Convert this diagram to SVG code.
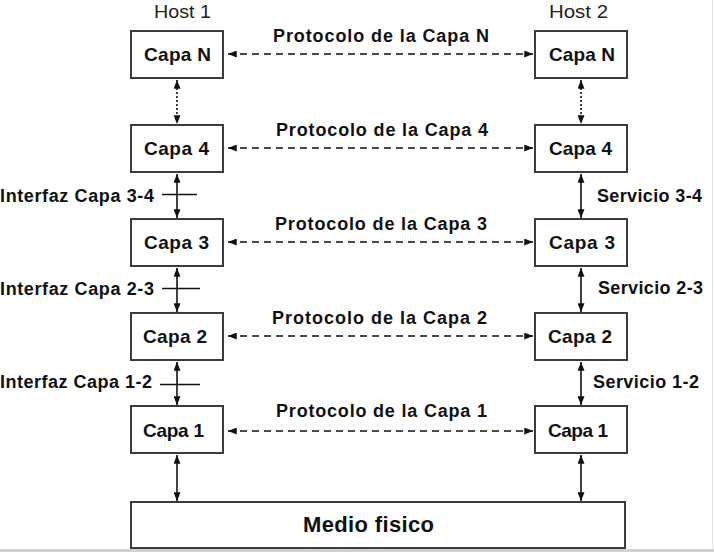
<svg xmlns="http://www.w3.org/2000/svg" width="714" height="552" viewBox="0 0 714 552">
<style>
.box{fill:#fff;stroke:#3c3c3c;stroke-width:2}
.t{font-family:"Liberation Sans",Arial,sans-serif;font-weight:bold;fill:#111}
.cap{font-size:19px}
.pl{font-size:18px}
.side{font-size:18px}
.host{font-family:"Liberation Sans",Arial,sans-serif;font-size:19px;fill:#222}
.c{stroke:#111;stroke-width:1.6;fill:none}
.dash{stroke-dasharray:7 5;stroke-width:1.5}
.dot{stroke-dasharray:2 2;stroke-width:1.6}
</style>
<defs>
<marker id="ah" viewBox="0 0 10 8" refX="10" refY="4" markerWidth="9" markerHeight="7" markerUnits="userSpaceOnUse" orient="auto-start-reverse">
<path d="M0,0 L10,4 L0,8 z" fill="#111"/>
</marker>
<marker id="av" viewBox="0 0 10 8" refX="10" refY="4" markerWidth="10" markerHeight="7" markerUnits="userSpaceOnUse" orient="auto-start-reverse">
<path d="M0,0 L10,4 L0,8 z" fill="#111"/>
</marker>
</defs>
<rect x="0" y="0" width="714" height="552" fill="#fff"/>
<rect x="0" y="549" width="714" height="3" fill="#d2d2d2"/>
<line x1="712.5" y1="0" x2="712.5" y2="549" stroke="#e2e2e2" stroke-width="1"/>

<text class="host" x="154" y="18" textLength="57" lengthAdjust="spacingAndGlyphs">Host 1</text>
<text class="host" x="549" y="18" textLength="59" lengthAdjust="spacingAndGlyphs">Host 2</text>

<g id="connectors">
<line class="c dash" x1="228" y1="54" x2="533" y2="54" marker-start="url(#ah)" marker-end="url(#ah)"/>
<line class="c dash" x1="228" y1="148" x2="533" y2="148" marker-start="url(#ah)" marker-end="url(#ah)"/>
<line class="c dash" x1="228" y1="242" x2="533" y2="242" marker-start="url(#ah)" marker-end="url(#ah)"/>
<line class="c dash" x1="228" y1="336" x2="533" y2="336" marker-start="url(#ah)" marker-end="url(#ah)"/>
<line class="c dash" x1="228" y1="431" x2="533" y2="431" marker-start="url(#ah)" marker-end="url(#ah)"/>

<line class="c dot" x1="177" y1="80" x2="177" y2="124" marker-start="url(#av)" marker-end="url(#av)"/>
<line class="c dot" x1="581" y1="80" x2="581" y2="124" marker-start="url(#av)" marker-end="url(#av)"/>

<line class="c" x1="177" y1="174" x2="177" y2="218" marker-start="url(#av)" marker-end="url(#av)"/>
<line class="c" x1="177" y1="268" x2="177" y2="312" marker-start="url(#av)" marker-end="url(#av)"/>
<line class="c" x1="177" y1="362" x2="177" y2="405" marker-start="url(#av)" marker-end="url(#av)"/>
<line class="c" x1="177" y1="455" x2="177" y2="501" marker-start="url(#av)" marker-end="url(#av)"/>

<line class="c" x1="581" y1="174" x2="581" y2="218" marker-start="url(#av)" marker-end="url(#av)"/>
<line class="c" x1="581" y1="268" x2="581" y2="312" marker-start="url(#av)" marker-end="url(#av)"/>
<line class="c" x1="581" y1="362" x2="581" y2="405" marker-start="url(#av)" marker-end="url(#av)"/>
<line class="c" x1="581" y1="455" x2="581" y2="501" marker-start="url(#av)" marker-end="url(#av)"/>

<line class="c" x1="162" y1="194.5" x2="197" y2="194.5" stroke-width="1.2"/>
<line class="c" x1="162" y1="288.5" x2="200" y2="288.5" stroke-width="1.2"/>
<line class="c" x1="160" y1="384.5" x2="200" y2="384.5" stroke-width="1.2"/>
</g>

<g id="labels">
<text class="t pl" x="273" y="42" textLength="216" lengthAdjust="spacing">Protocolo de la Capa  N</text>
<text class="t pl" x="276" y="136" textLength="212" lengthAdjust="spacing">Protocolo de la Capa 4</text>
<text class="t pl" x="275" y="230" textLength="212" lengthAdjust="spacing">Protocolo de la Capa 3</text>
<text class="t pl" x="272" y="324" textLength="215" lengthAdjust="spacing">Protocolo de la Capa 2</text>
<text class="t pl" x="276" y="417" textLength="211" lengthAdjust="spacing">Protocolo de la Capa 1</text>

<text class="t side" x="0" y="202" textLength="154" lengthAdjust="spacing">Interfaz Capa 3-4</text>
<text class="t side" x="0" y="295" textLength="154" lengthAdjust="spacing">Interfaz Capa 2-3</text>
<text class="t side" x="0" y="388" textLength="152" lengthAdjust="spacing">Interfaz Capa 1-2</text>

<text class="t side" x="597" y="202" textLength="105" lengthAdjust="spacing">Servicio 3-4</text>
<text class="t side" x="598" y="294" textLength="105" lengthAdjust="spacing">Servicio 2-3</text>
<text class="t side" x="593" y="388" textLength="106" lengthAdjust="spacing">Servicio 1-2</text>
</g>

<g id="h1-capaN"><rect class="box" x="131" y="31" width="92" height="47"/><text class="t cap" x="144" y="61" textLength="67" lengthAdjust="spacing">Capa N</text></g>
<g id="h1-capa4"><rect class="box" x="131" y="125" width="92" height="47"/><text class="t cap" x="144" y="155" textLength="65" lengthAdjust="spacing">Capa 4</text></g>
<g id="h1-capa3"><rect class="box" x="131" y="219" width="92" height="47"/><text class="t cap" x="144" y="249" textLength="65" lengthAdjust="spacing">Capa 3</text></g>
<g id="h1-capa2"><rect class="box" x="131" y="313" width="92" height="47"/><text class="t cap" x="143" y="343" textLength="64" lengthAdjust="spacing">Capa 2</text></g>
<g id="h1-capa1"><rect class="box" x="131" y="406" width="92" height="47"/><text class="t cap" x="143" y="437" textLength="61" lengthAdjust="spacing">Capa 1</text></g>

<g id="h2-capaN"><rect class="box" x="535" y="31" width="92" height="47"/><text class="t cap" x="549" y="61" textLength="66" lengthAdjust="spacing">Capa N</text></g>
<g id="h2-capa4"><rect class="box" x="535" y="125" width="92" height="47"/><text class="t cap" x="549" y="155" textLength="63" lengthAdjust="spacing">Capa 4</text></g>
<g id="h2-capa3"><rect class="box" x="535" y="219" width="92" height="47"/><text class="t cap" x="549" y="249" textLength="66" lengthAdjust="spacing">Capa 3</text></g>
<g id="h2-capa2"><rect class="box" x="535" y="313" width="92" height="47"/><text class="t cap" x="548" y="343" textLength="64" lengthAdjust="spacing">Capa 2</text></g>
<g id="h2-capa1"><rect class="box" x="535" y="406" width="92" height="47"/><text class="t cap" x="548" y="437" textLength="60" lengthAdjust="spacing">Capa 1</text></g>

<g id="medio"><rect class="box" x="131" y="502" width="494" height="46"/><text class="t" font-size="22" x="303" y="532" textLength="131" lengthAdjust="spacing">Medio fisico</text></g>
</svg>
